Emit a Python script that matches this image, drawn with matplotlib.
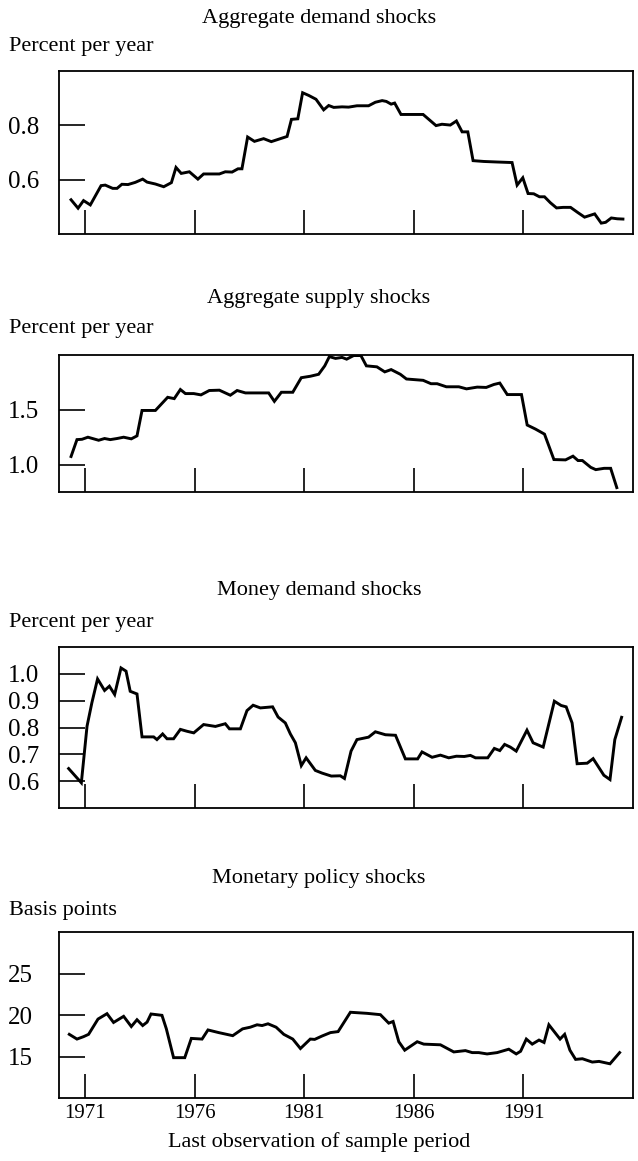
import matplotlib
matplotlib.use("Agg")
import matplotlib.pyplot as plt

plt.rcParams['font.family'] = ['Liberation Serif', 'DejaVu Serif']

# Datos (ano de la ultima observacion, valor)
ad_years = [1970.35, 1970.67, 1970.92, 1971.23, 1971.72, 1971.91, 1972.25, 1972.45, 1972.67, 1972.95,
            1973.28, 1973.62, 1973.82, 1974.20, 1974.58, 1974.93, 1975.14, 1975.38, 1975.75, 1976.14,
            1976.40, 1976.71, 1977.12, 1977.39, 1977.70, 1977.97, 1978.15, 1978.41, 1978.72, 1979.14,
            1979.49, 1979.83, 1980.21, 1980.41, 1980.70, 1980.92, 1981.20, 1981.53, 1981.88, 1982.11,
            1982.34, 1982.72, 1983.02, 1983.40, 1983.93, 1984.24, 1984.55, 1984.74, 1984.96, 1985.12,
            1985.41, 1986.42, 1987.01, 1987.28, 1987.66, 1987.94, 1988.20, 1988.46, 1988.70, 1989.19,
            1989.80, 1990.48, 1990.71, 1990.97, 1991.21, 1991.47, 1991.73, 1991.96, 1992.23, 1992.51,
            1992.81, 1993.15, 1993.48, 1993.79, 1994.25, 1994.55, 1994.75, 1995.01, 1995.28, 1995.54]
ad_vals = [0.526, 0.495, 0.523, 0.507, 0.578, 0.580, 0.568, 0.568, 0.583, 0.582,
           0.590, 0.602, 0.591, 0.584, 0.574, 0.589, 0.645, 0.623, 0.629, 0.602,
           0.621, 0.621, 0.621, 0.629, 0.628, 0.640, 0.640, 0.757, 0.741, 0.751,
           0.740, 0.749, 0.759, 0.822, 0.824, 0.920, 0.910, 0.896, 0.857, 0.873,
           0.866, 0.868, 0.867, 0.872, 0.872, 0.885, 0.891, 0.888, 0.878, 0.882,
           0.840, 0.840, 0.799, 0.804, 0.801, 0.816, 0.776, 0.776, 0.670, 0.667,
           0.665, 0.663, 0.580, 0.607, 0.549, 0.548, 0.537, 0.537, 0.515, 0.496,
           0.498, 0.498, 0.479, 0.462, 0.474, 0.440, 0.443, 0.459, 0.456, 0.455]

as_years = [1970.35, 1970.62, 1970.85, 1971.12, 1971.33, 1971.61, 1971.88, 1972.14, 1972.45, 1972.75,
            1973.10, 1973.36, 1973.59, 1973.92, 1974.20, 1974.47, 1974.76, 1975.06, 1975.34, 1975.57,
            1975.95, 1976.28, 1976.66, 1977.12, 1977.62, 1977.93, 1978.31, 1978.76, 1979.37, 1979.63,
            1979.95, 1980.47, 1980.86, 1981.27, 1981.65, 1981.93, 1982.14, 1982.42, 1982.72, 1982.93,
            1983.25, 1983.58, 1983.83, 1984.31, 1984.67, 1984.96, 1985.38, 1985.66, 1986.42, 1986.78,
            1987.06, 1987.48, 1988.05, 1988.40, 1988.89, 1989.30, 1989.65, 1989.92, 1990.26, 1990.91,
            1991.17, 1991.55, 1991.96, 1992.39, 1992.92, 1993.26, 1993.49, 1993.69, 1994.07, 1994.30,
            1994.68, 1994.98, 1995.26]
as_vals = [1.074, 1.228, 1.231, 1.250, 1.238, 1.222, 1.238, 1.228, 1.238, 1.250,
           1.235, 1.262, 1.494, 1.494, 1.494, 1.552, 1.614, 1.602, 1.685, 1.648,
           1.648, 1.636, 1.676, 1.679, 1.633, 1.676, 1.654, 1.654, 1.654, 1.577,
           1.660, 1.660, 1.793, 1.806, 1.824, 1.901, 1.985, 1.969, 1.978, 1.962,
           1.995, 1.995, 1.901, 1.892, 1.846, 1.867, 1.824, 1.781, 1.769, 1.738,
           1.738, 1.710, 1.710, 1.691, 1.707, 1.704, 1.731, 1.744, 1.639, 1.639,
           1.361, 1.324, 1.278, 1.046, 1.043, 1.077, 1.037, 1.037, 0.975, 0.954,
           0.966, 0.966, 0.790]

md_years = [1970.24, 1970.82, 1971.08, 1971.30, 1971.56, 1971.88, 1972.10, 1972.34, 1972.63, 1972.86,
            1973.05, 1973.36, 1973.59, 1974.12, 1974.27, 1974.53, 1974.73, 1975.03, 1975.34, 1975.64,
            1975.95, 1976.40, 1976.94, 1977.39, 1977.58, 1978.08, 1978.38, 1978.66, 1978.99, 1979.55,
            1979.80, 1980.13, 1980.36, 1980.59, 1980.86, 1981.08, 1981.50, 1981.81, 1982.23, 1982.64,
            1982.83, 1983.13, 1983.40, 1983.93, 1984.24, 1984.70, 1985.16, 1985.61, 1986.17, 1986.37,
            1986.83, 1987.21, 1987.59, 1987.94, 1988.30, 1988.58, 1988.81, 1989.37, 1989.67, 1989.92,
            1990.14, 1990.40, 1990.67, 1991.16, 1991.44, 1991.90, 1992.41, 1992.72, 1992.95, 1993.22,
            1993.45, 1993.91, 1994.18, 1994.37, 1994.67, 1994.95, 1995.17, 1995.48]
md_vals = [0.647, 0.594, 0.805, 0.892, 0.981, 0.938, 0.954, 0.923, 1.022, 1.010,
           0.935, 0.925, 0.765, 0.765, 0.755, 0.776, 0.758, 0.758, 0.793, 0.786,
           0.780, 0.811, 0.804, 0.814, 0.795, 0.795, 0.863, 0.883, 0.873, 0.877,
           0.839, 0.817, 0.776, 0.743, 0.658, 0.687, 0.640, 0.630, 0.619, 0.620,
           0.610, 0.712, 0.755, 0.764, 0.784, 0.773, 0.771, 0.683, 0.683, 0.709,
           0.689, 0.697, 0.687, 0.693, 0.692, 0.696, 0.687, 0.687, 0.722, 0.714,
           0.737, 0.727, 0.712, 0.790, 0.743, 0.727, 0.898, 0.882, 0.877, 0.817,
           0.665, 0.667, 0.684, 0.660, 0.622, 0.606, 0.755, 0.838]

mp_years = [1970.27, 1970.62, 1970.92, 1971.15, 1971.58, 1971.99, 1972.29, 1972.75, 1973.10, 1973.36,
            1973.62, 1973.82, 1974.00, 1974.50, 1974.70, 1975.03, 1975.54, 1975.84, 1976.33, 1976.60,
            1977.09, 1977.73, 1978.18, 1978.53, 1978.84, 1979.07, 1979.34, 1979.71, 1980.06, 1980.47,
            1980.82, 1981.27, 1981.47, 1981.81, 1982.19, 1982.54, 1983.10, 1983.86, 1984.47, 1984.85,
            1985.05, 1985.31, 1985.58, 1986.15, 1986.45, 1987.21, 1987.82, 1988.35, 1988.66, 1988.96,
            1989.34, 1989.80, 1990.33, 1990.67, 1990.87, 1991.13, 1991.40, 1991.71, 1991.94, 1992.16,
            1992.67, 1992.88, 1993.12, 1993.38, 1993.69, 1994.14, 1994.45, 1994.95, 1995.39]
mp_vals = [17.67, 17.10, 17.39, 17.67, 19.51, 20.16, 19.10, 19.84, 18.61, 19.43,
           18.73, 19.14, 20.12, 19.96, 18.33, 14.86, 14.86, 17.18, 17.10, 18.20,
           17.88, 17.51, 18.33, 18.53, 18.82, 18.73, 18.94, 18.53, 17.67, 17.10,
           15.96, 17.10, 17.06, 17.47, 17.88, 18.00, 20.33, 20.20, 20.04, 19.02,
           19.22, 16.78, 15.76, 16.78, 16.49, 16.41, 15.55, 15.71, 15.47, 15.47,
           15.31, 15.47, 15.88, 15.31, 15.63, 17.10, 16.49, 16.98, 16.69, 18.82,
           17.10, 17.67, 15.76, 14.65, 14.73, 14.33, 14.41, 14.12, 15.47]

year_ticks = [1971, 1976, 1981, 1986, 1991]

panels = [
    ("Aggregate demand shocks", "Percent per year", ad_years, ad_vals, (0.4, 1.0), [0.6, 0.8], ["0.6", "0.8"]),
    ("Aggregate supply shocks", "Percent per year", as_years, as_vals, (0.75, 2.0), [1.0, 1.5], ["1.0", "1.5"]),
    ("Money demand shocks", "Percent per year", md_years, md_vals, (0.5, 1.1),
     [0.6, 0.7, 0.8, 0.9, 1.0], ["0.6", "0.7", "0.8", "0.9", "1.0"]),
    ("Monetary policy shocks", "Basis points", mp_years, mp_vals, (10, 30), [15, 20, 25], ["15", "20", "25"]),
]

# caja de cada panel en pixeles: (arriba, abajo), y posicion del titulo y la etiqueta
W, H = 638, 1161
boxes = [(71, 234), (355, 492), (647, 808), (932, 1098)]
title_y = [18, 298, 590, 878]
label_y = [46, 329, 622, 910]
left, right = 59, 633

fig = plt.figure(figsize=(W / 100, H / 100), dpi=100)
fs = 16

for i, (title, ylab, xs, ys, ylim, yt, ytl) in enumerate(panels):
    top, bot = boxes[i]
    ax = fig.add_axes([left / W, 1 - bot / H, (right - left) / W, (bot - top) / H])
    ax.plot(xs, ys, color='black', lw=2.1, solid_joinstyle='miter')
    ax.set_xlim(1969.8, 1996.0)
    ax.set_ylim(*ylim)
    ax.set_yticks(yt)
    ax.set_yticklabels(ytl, fontsize=18)
    for lab in ax.get_yticklabels():
        lab.set_horizontalalignment('left')
    ax.set_xticks(year_ticks)
    ax.tick_params(axis='y', direction='in', length=19, width=1.2, pad=37)
    ax.tick_params(axis='x', direction='in', length=17, width=1.2, pad=4)
    if i == 3:
        ax.set_xticklabels([str(y) for y in year_ticks], fontsize=15)
    else:
        ax.set_xticklabels([])
    for s in ax.spines.values():
        s.set_linewidth(1.3)
    fig.text(0.5, 1 - title_y[i] / H, title, ha='center', va='center', fontsize=fs)
    fig.text(9 / W, 1 - label_y[i] / H, ylab, ha='left', va='center', fontsize=fs)

fig.text(0.5, 1 - 1142 / H, "Last observation of sample period", ha='center', va='center', fontsize=fs)

fig.savefig("out.png", dpi=100)
